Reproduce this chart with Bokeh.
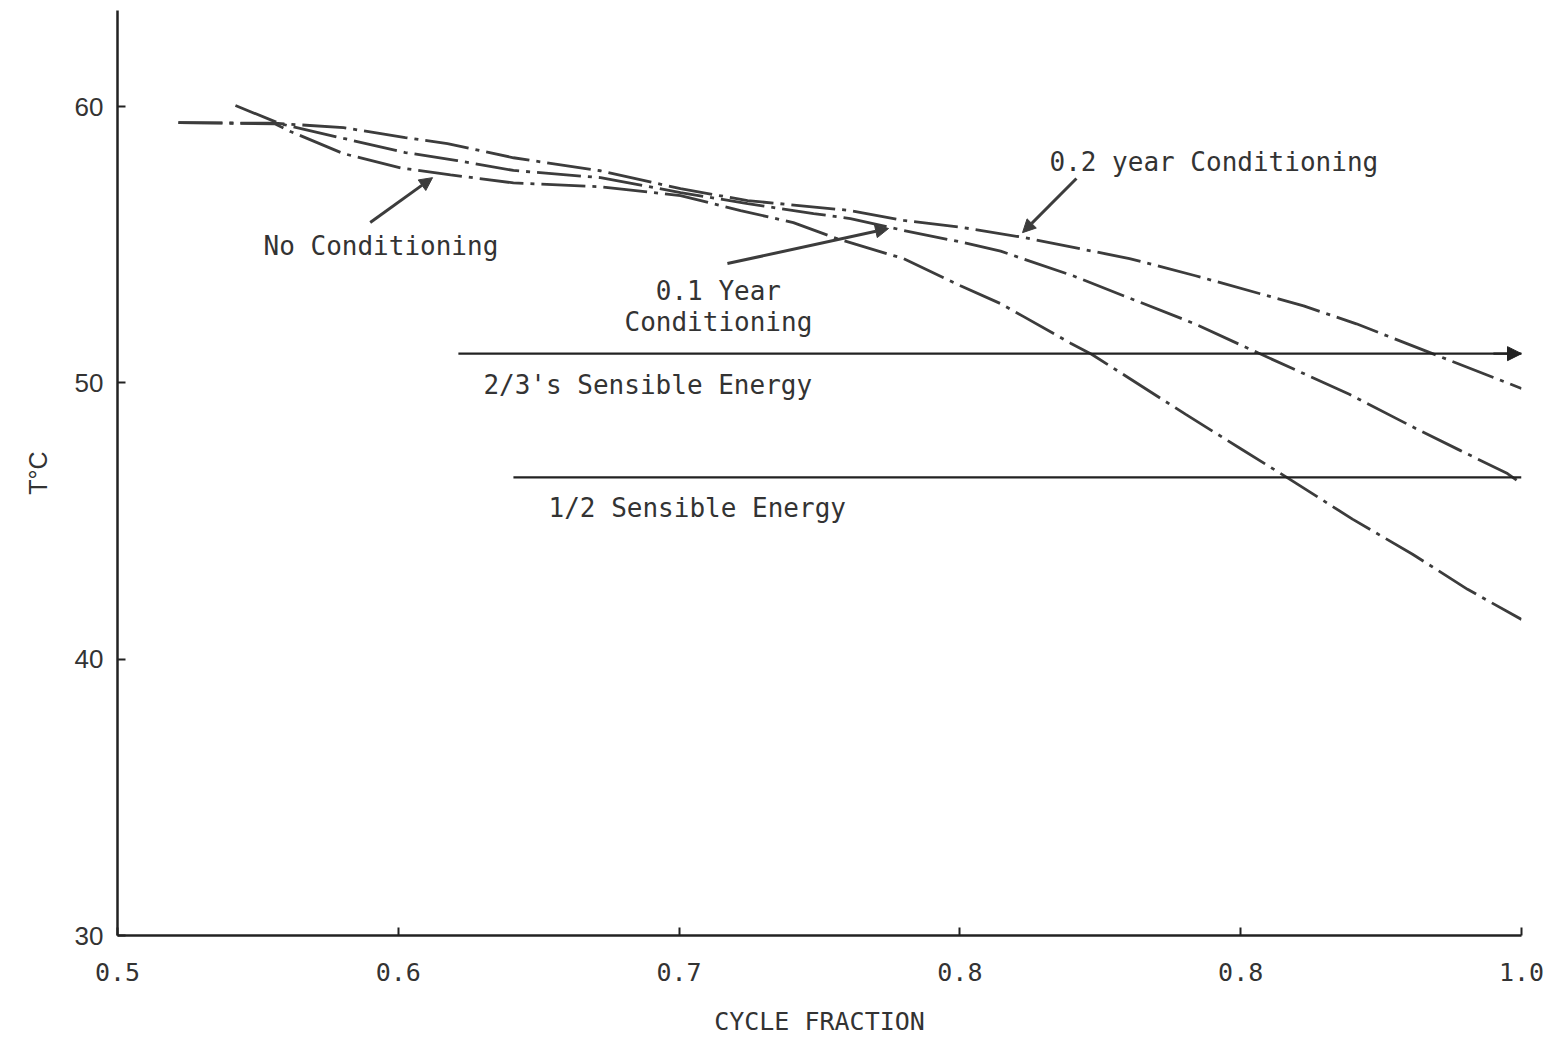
from bokeh.plotting import figure
from bokeh.models import FixedTicker, Arrow, NormalHead, Range1d
from bokeh.core.properties import value
from bokeh.embed import file_html
from bokeh.resources import INLINE

# ---- data ----
x_ticks = [0.5, 0.6, 0.7, 0.8, 0.9, 1.0]
x_tick_labels = ["0.5", "0.6", "0.7", "0.8", "0.8", "1.0"]
y_ticks = [30, 40, 50, 60]

none_x = [0.5217, 0.556, 0.5616, 0.5805, 0.6008, 0.6186, 0.641, 0.672, 0.7005, 0.7219, 0.7407,
          0.7564, 0.7799, 0.8002, 0.8145, 0.8227, 0.8394, 0.8469, 0.8803, 0.9003, 0.9174, 0.9398,
          0.9612, 0.9808, 1.0]
none_y = [59.42, 59.38, 59.1, 58.3, 57.78, 57.53, 57.24, 57.1, 56.78, 56.24, 55.8,
          55.22, 54.5, 53.52, 52.87, 52.4, 51.44, 51.04, 48.87, 47.6, 46.52, 45.07,
          43.8, 42.53, 41.44]

cond01_x = [0.542, 0.558, 0.5805, 0.6025, 0.621, 0.641, 0.672, 0.7005, 0.7244, 0.7479, 0.761,
            0.78, 0.8013, 0.8145, 0.8405, 0.8604, 0.8839, 0.9063, 0.9387, 0.9637, 0.9783, 0.995, 1.0]
cond01_y = [60.04, 59.38, 58.85, 58.34, 58.05, 57.69, 57.43, 56.89, 56.49, 56.13, 55.95,
            55.52, 55.08, 54.77, 53.87, 53.07, 52.13, 51.08, 49.59, 48.28, 47.55, 46.72, 46.36]

cond02_x = [0.5217, 0.556, 0.5805, 0.6025, 0.6175, 0.641, 0.672, 0.7005, 0.7244, 0.761, 0.78,
            0.8013, 0.823, 0.8604, 0.8839, 0.9224, 0.9412, 0.9658, 1.0]
cond02_y = [59.42, 59.4, 59.24, 58.88, 58.66, 58.15, 57.68, 57.03, 56.6, 56.24, 55.88,
            55.62, 55.26, 54.5, 53.88, 52.79, 52.14, 51.16, 49.8]

energy_levels = [51.06, 46.58]
energy_start = [0.6214, 0.641]
energy_labels = ["2/3's Sensible Energy", "1/2 Sensible Energy"]

INK = "#3c3c3c"
TXT = "#333333"
MONO = "DejaVu Sans Mono"

p = figure(width=1547, height=1044, output_backend="svg", toolbar_location=None,
           x_range=Range1d(0.5, 1.0), y_range=Range1d(30, 63.48),
           min_border_left=117, min_border_right=26, min_border_top=10, min_border_bottom=109)
p.outline_line_color = None
p.xgrid.visible = False
p.ygrid.visible = False
p.background_fill_color = "white"
p.border_fill_color = "white"

# axes
p.xaxis.ticker = FixedTicker(ticks=x_ticks)
p.xaxis.major_label_overrides = {t: l for t, l in zip(x_ticks, x_tick_labels)}
p.yaxis.ticker = FixedTicker(ticks=y_ticks)
for ax in (p.xaxis[0], p.yaxis[0]):
    ax.axis_line_color = "#222222"
    ax.axis_line_width = 2.5
    ax.major_tick_line_color = "#222222"
    ax.major_tick_line_width = 2
    ax.major_tick_in = 8
    ax.major_tick_out = 0
    ax.minor_tick_line_color = None
    ax.major_label_text_color = TXT
    ax.axis_label_text_color = TXT
    ax.axis_label_text_font_style = "normal"

p.xaxis.major_label_text_font = MONO
p.xaxis.major_label_text_font_size = "25px"
p.xaxis.major_label_standoff = 27
p.xaxis.axis_label = "CYCLE FRACTION"
p.xaxis.axis_label_text_font = MONO
p.xaxis.axis_label_text_font_size = "25px"
p.xaxis.axis_label_standoff = 23

p.yaxis.major_label_text_font = "Liberation Sans"
p.yaxis.major_label_text_font_size = "26px"
p.yaxis.major_label_standoff = 14
p.yaxis.axis_label = "T°C"
p.yaxis.axis_label_text_font = "Liberation Sans"
p.yaxis.axis_label_text_font_size = "25px"
p.yaxis.axis_label_standoff = 20

# curves
dash = "44 7 4 7"
for xs, ys in ((none_x, none_y), (cond01_x, cond01_y), (cond02_x, cond02_y)):
    p.line(xs, ys, line_color=INK, line_width=2.8, line_dash=dash)

# energy lines
p.segment(x0=energy_start, y0=energy_levels, x1=[1.0, 1.0], y1=energy_levels,
          line_color="#222222", line_width=2.4)
p.add_layout(Arrow(end=NormalHead(size=14, fill_color="#222222", line_color="#222222"),
                   x_start=0.99, y_start=energy_levels[0], x_end=1.0, y_end=energy_levels[0],
                   line_color="#222222", line_width=2.4))

# annotation arrows
head = lambda: NormalHead(size=13, fill_color=INK, line_color=INK)
p.add_layout(Arrow(end=head(), x_start=0.590, y_start=55.81, x_end=0.6122, y_end=57.43,
                   line_color=INK, line_width=3))
p.add_layout(Arrow(end=head(), x_start=0.7172, y_start=54.32, x_end=0.7746, y_end=55.59,
                   line_color=INK, line_width=3))
p.add_layout(Arrow(end=head(), x_start=0.8415, y_start=57.4, x_end=0.8223, y_end=55.44,
                   line_color=INK, line_width=3))

# labels
p.text(x=[0.552], y=[54.94], text=["No Conditioning"], text_font=value(MONO),
       text_font_size="26px", text_color=TXT, text_align="left", text_baseline="middle")
p.text(x=[0.714, 0.714], y=[53.31, 52.22], text=["0.1 Year", "Conditioning"], text_font=value(MONO),
       text_font_size="26px", text_color=TXT, text_align="center", text_baseline="middle")
p.text(x=[0.8319], y=[57.98], text=["0.2 year Conditioning"], text_font=value(MONO),
       text_font_size="26px", text_color=TXT, text_align="left", text_baseline="middle")
p.text(x=[0.6303, 0.6535], y=[49.94, 45.49], text=energy_labels, text_font=value(MONO),
       text_font_size="26px", text_color=TXT, text_align="left", text_baseline="middle")

open("out.html", "w").write(file_html(p, INLINE))
